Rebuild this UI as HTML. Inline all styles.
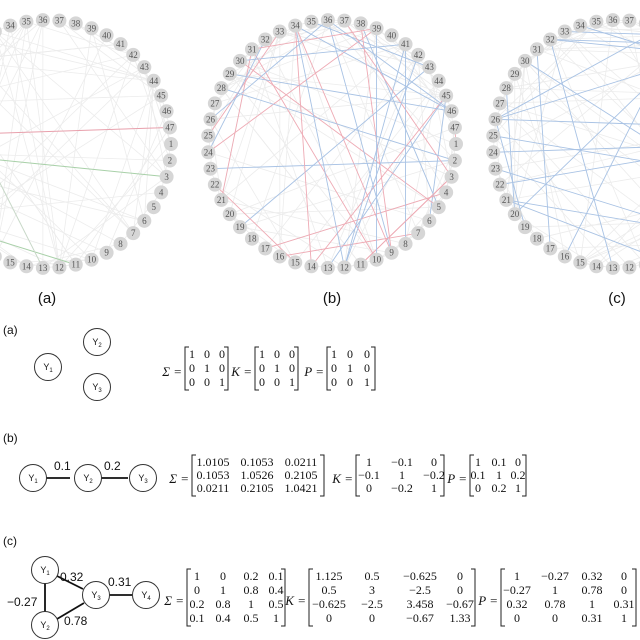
<!DOCTYPE html>
<html><head><meta charset="utf-8">
<style>
html,body{margin:0;padding:0;background:#fff;}
svg{display:block;}
.n{font-family:"Liberation Serif",serif;font-size:9px;fill:#555;text-anchor:middle;}
.m{font-family:"Liberation Serif",serif;font-size:12px;fill:#111;text-anchor:middle;}
.mi{font-family:"Liberation Serif",serif;font-size:13px;fill:#111;font-style:italic;text-anchor:end;}
.s{font-family:"Liberation Sans",sans-serif;font-size:12px;fill:#111;}
.y{font-family:"Liberation Sans",sans-serif;font-size:9px;fill:#111;text-anchor:middle;}
.lab{font-family:"Liberation Sans",sans-serif;font-size:15px;fill:#111;text-anchor:middle;}
</style></head>
<body>
<svg id="s" width="640" height="640" viewBox="0 0 640 640" xmlns="http://www.w3.org/2000/svg">
<g id="top"></g>
<text class="lab" x="47" y="303">(a)</text>
<text class="lab" x="332" y="303">(b)</text>
<text class="lab" x="617" y="303">(c)</text>

<g fill="none" stroke="#111" stroke-width="1.8">
<line x1="35" y1="478" x2="70" y2="478"/>
<line x1="95" y1="478" x2="128" y2="478"/>
<line x1="45" y1="583" x2="45" y2="612"/>
<line x1="57" y1="576" x2="83" y2="589"/>
<line x1="57" y1="619" x2="84" y2="603"/>
<line x1="108" y1="595" x2="132" y2="595"/>
</g>
<g fill="#fff" stroke="#333" stroke-width="1">
<circle cx="48" cy="367" r="13.5"/><circle cx="97" cy="342" r="13.5"/><circle cx="97" cy="387" r="13.5"/>
<circle cx="33" cy="478" r="13.5"/><circle cx="88" cy="478" r="13.5"/><circle cx="143" cy="478" r="13.5"/>
<circle cx="45" cy="570" r="13.5"/><circle cx="45" cy="625" r="13.5"/><circle cx="96" cy="595" r="13.5"/><circle cx="146" cy="595" r="13.5"/>
</g>
<g class="y">
<text x="48" y="370">Y<tspan font-size="6" dy="2">1</tspan></text>
<text x="97" y="345">Y<tspan font-size="6" dy="2">2</tspan></text>
<text x="97" y="390">Y<tspan font-size="6" dy="2">3</tspan></text>
<text x="33" y="481">Y<tspan font-size="6" dy="2">1</tspan></text>
<text x="88" y="481">Y<tspan font-size="6" dy="2">2</tspan></text>
<text x="143" y="481">Y<tspan font-size="6" dy="2">3</tspan></text>
<text x="45" y="573">Y<tspan font-size="6" dy="2">1</tspan></text>
<text x="45" y="628">Y<tspan font-size="6" dy="2">2</tspan></text>
<text x="96" y="598">Y<tspan font-size="6" dy="2">3</tspan></text>
<text x="146" y="598">Y<tspan font-size="6" dy="2">4</tspan></text>
</g>
<g class="s" font-size="11">
<text x="3" y="334">(a)</text><text x="3" y="442">(b)</text><text x="3" y="545">(c)</text>
<text x="54" y="470">0.1</text><text x="104" y="470">0.2</text>
<text x="60" y="581">0.32</text><text x="7" y="606">−0.27</text>
<text x="108" y="586">0.31</text><text x="64" y="625">0.78</text>
</g>
<g id="mats"></g>
</svg>
<script>
(function(){
var NS="http://www.w3.org/2000/svg";
function el(p,t,a,txt){var e=document.createElementNS(NS,t);for(var k in a)e.setAttribute(k,a[k]);if(txt!=null)e.textContent=txt;p.appendChild(e);return e;}
var top=document.getElementById('top');
var seed=7;function rnd(){seed=(seed*16807)%2147483647;return seed/2147483647;}
var R=124,N=47;
function pos(cx,cy,k){var a=(k-1)*2*Math.PI/N;return [cx+R*Math.cos(a),144+R*Math.sin(a)];}
var cs=[47,332,617];
cs.forEach(function(cx,ci){
  var g=el(top,'g',{});
  for(var i=0;i<90;i++){var a=1+Math.floor(rnd()*N),b=1+Math.floor(rnd()*N);if(a==b)continue;var p=pos(cx,144,a),q=pos(cx,144,b);
    el(g,'line',{x1:p[0],y1:p[1],x2:q[0],y2:q[1],stroke:'#ececec','stroke-width':0.8});}
  var nc= ci==1?50:(ci==2?26:0);
  for(var i=0;i<nc;i++){var a=1+Math.floor(rnd()*N),b=1+Math.floor(rnd()*N);if(Math.abs(a-b)<6)continue;var p=pos(cx,144,a),q=pos(cx,144,b);
    var col = ci==2?'#a8c2e4':(rnd()<0.5?'#eeaab4':'#a8c2e4');
    el(g,'line',{x1:p[0],y1:p[1],x2:q[0],y2:q[1],stroke:col,'stroke-width':0.9});}
  if(ci==0){var p=pos(cx,144,47),q=pos(cx,144,25);el(g,'line',{x1:p[0],y1:p[1],x2:q[0],y2:q[1],stroke:'#e8a0ac','stroke-width':1});
    p=pos(cx,144,3);q=pos(cx,144,24);el(g,'line',{x1:p[0],y1:p[1],x2:q[0],y2:q[1],stroke:'#a8d0a8','stroke-width':1});
    p=pos(cx,144,11);q=pos(cx,144,19);el(g,'line',{x1:p[0],y1:p[1],x2:q[0],y2:q[1],stroke:'#a8d0a8','stroke-width':1});
    p=pos(cx,144,13);q=pos(cx,144,29);el(g,'line',{x1:p[0],y1:p[1],x2:q[0],y2:q[1],stroke:'#c8d8c8','stroke-width':1});}
  for(var k=1;k<=N;k++){var p=pos(cx,144,k);
    el(g,'circle',{cx:p[0],cy:p[1],r:7,fill:'#d6d6d6'});
    el(g,'text',{'class':'n',x:p[0],y:p[1]+3},String(k));}
});
var M=document.getElementById('mats');
function mat(x0,w,rows,y0,dy,colsX,label){
  el(M,'text',{'class':'mi',x:x0-3,y:y0+(rows.length-1)*dy/2+4},label+' =');
  var top=y0-11,bot=y0+(rows.length-1)*dy+4;
  el(M,'path',{d:'M'+(x0+4)+' '+top+'H'+x0+'V'+bot+'H'+(x0+4),fill:'none',stroke:'#222','stroke-width':1});
  el(M,'path',{d:'M'+(x0+w-4)+' '+top+'H'+(x0+w)+'V'+bot+'H'+(x0+w-4),fill:'none',stroke:'#222','stroke-width':1});
  rows.forEach(function(r,i){r.forEach(function(v,j){el(M,'text',{'class':'m',x:x0+colsX[j],y:y0+i*dy},v);});});
}
var I=[['1','0','0'],['0','1','0'],['0','0','1']];
mat(185,43,I,358,14,[7,22,37],'Σ');
mat(255,43,I,358,14,[7,22,37],'K');
mat(327,48,I,358,14,[7,23,40],'P');
mat(192,132,[['1.0105','0.1053','0.0211'],['0.1053','1.0526','0.2105'],['0.0211','0.2105','1.0421']],466,13,[21,65,109],'Σ');
mat(356,88,[['1','−0.1','0'],['−0.1','1','−0.2'],['0','−0.2','1']],466,13,[13,46,78],'K');
mat(470,56,[['1','0.1','0'],['0.1','1','0.2'],['0','0.2','1']],466,13,[8,29,48],'P');
mat(187,98,[['1','0','0.2','0.1'],['0','1','0.8','0.4'],['0.2','0.8','1','0.5'],['0.1','0.4','0.5','1']],580,14,[10,36,64,89],'Σ');
mat(309,166,[['1.125','0.5','−0.625','0'],['0.5','3','−2.5','0'],['−0.625','−2.5','3.458','−0.67'],['0','0','−0.67','1.33']],580,14,[20,63,111,151],'K');
mat(501,135,[['1','−0.27','0.32','0'],['−0.27','1','0.78','0'],['0.32','0.78','1','0.31'],['0','0','0.31','1']],580,14,[16,54,91,123],'P');
})();
</script>
</body></html>
